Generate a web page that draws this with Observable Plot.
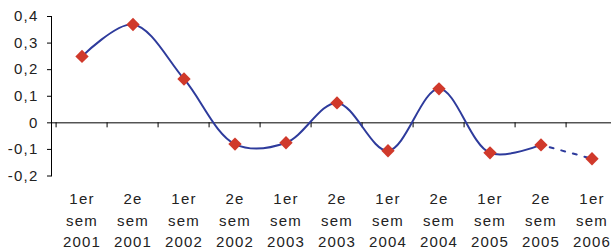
<!DOCTYPE html>
<html>
<head>
<meta charset="utf-8">
<script src="https://cdn.jsdelivr.net/npm/d3@7"></script>
<script src="https://cdn.jsdelivr.net/npm/@observablehq/plot@0.6"></script>
<style>
  html, body { margin: 0; padding: 0; background: #fff; }
  #chart svg { overflow: hidden; font-family: "Liberation Sans", Arial, sans-serif; letter-spacing: 1.2px; }
</style>
</head>
<body>
<div id="chart"></div>
<script>
// Data
const halves = ["1er", "2e", "1er", "2e", "1er", "2e", "1er", "2e", "1er", "2e", "1er"];
const years = ["2001", "2001", "2002", "2002", "2003", "2003", "2004", "2004", "2005", "2005", "2006"];
const values = [0.25, 0.37, 0.165, -0.08, -0.075, 0.075, -0.105, 0.128, -0.113, -0.083, -0.135];
const yTicks = [-0.2, -0.1, 0, 0.1, 0.2, 0.3, 0.4];
const solidCount = 10; // last segment drawn dashed (forecast)

const categories = halves.map((h, i) => `${h} sem ${years[i]}`);
const data = categories.map((c, i) => ({cat: c, value: values[i]}));
const solid = data.slice(0, solidCount);
const dashed = data.slice(solidCount - 1);

const W = 611, H = 249;
const marginLeft = 51, marginRight = -10, marginTop = 16, marginBottom = 73.5;
const bandW = (W - marginRight - marginLeft) / categories.length;

const lineColor = "#2e3b9c";
const markerColor = "#d0392b";

const chart = Plot.plot({
  width: W,
  height: H,
  marginLeft, marginRight, marginTop, marginBottom,
  style: {fontFamily: "'Liberation Sans', Arial, sans-serif", fontSize: "15px", color: "#222", background: "#fff"},
  x: {type: "band", domain: categories, padding: 0, axis: null},
  y: {domain: [-0.2, 0.4], axis: null},
  marks: [
    Plot.axisY({
      ticks: yTicks,
      tickFormat: d => d === 0 ? "0" : d.toFixed(1).replace(".", ","),
      tickSize: 4,
      tickPadding: 9,
      label: null,
      fontSize: 15,
      stroke: "#000",
      fill: "#222"
    }),
    Plot.frame({anchor: "left", stroke: "#000"}),
    Plot.ruleY([0], {stroke: "#000", strokeWidth: 1}),
    Plot.ruleX(categories, {x: d => d, y1: 0, y2: 0, insetBottom: -5, dx: -bandW / 2, stroke: "#000"}),
    Plot.axisX({
      anchor: "bottom",
      tickSize: 0,
      tickPadding: 13,
      lineHeight: 21.5 / 15,
      fontSize: 15,
      fill: "#222",
      tickFormat: d => d.split(" ").join("\n"),
      label: null
    }),
    Plot.line(solid, {x: "cat", y: "value", stroke: lineColor, strokeWidth: 2, curve: "catmull-rom"}),
    Plot.line(dashed, {x: "cat", y: "value", stroke: lineColor, strokeWidth: 2, strokeDasharray: "4,8", strokeDashoffset: -9}),
    Plot.dot(data, {x: "cat", y: "value", symbol: "diamond2", r: 6, fill: markerColor, stroke: "none"})
  ]
});
document.getElementById("chart").appendChild(chart);
</script>
</body>
</html>
